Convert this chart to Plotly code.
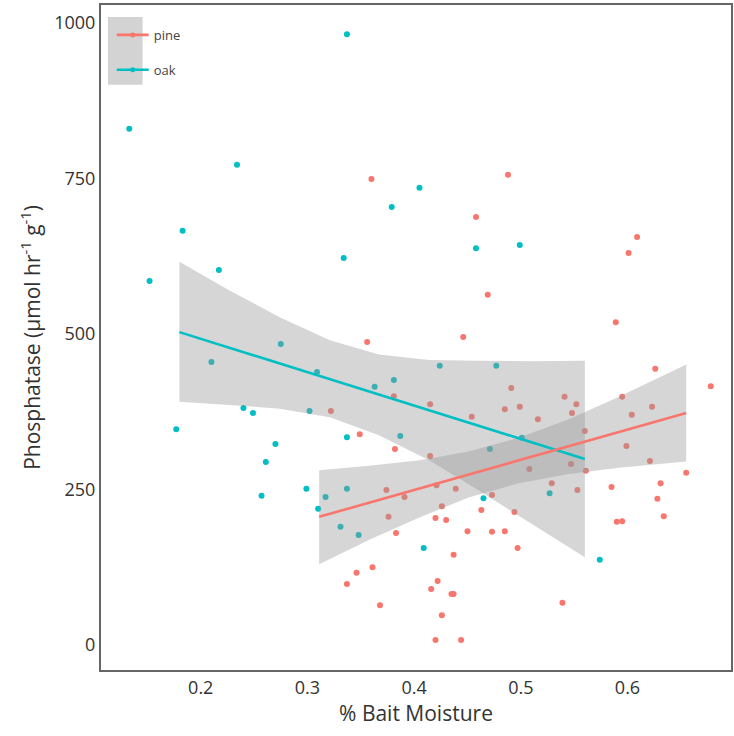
import plotly.graph_objects as go

# ---- data ----
oak_x = [0.133, 0.152, 0.183, 0.217, 0.234, 0.337, 0.177, 0.210, 0.240, 0.249,
         0.270, 0.261, 0.257, 0.275, 0.299, 0.302, 0.309, 0.334, 0.337, 0.317,
         0.310, 0.331, 0.337, 0.348, 0.379, 0.405, 0.458, 0.499, 0.424, 0.477,
         0.381, 0.363, 0.387, 0.471, 0.501, 0.465, 0.527, 0.409, 0.574]
oak_y = [830, 585, 666, 603, 772, 982, 347, 455, 381, 373,
         323, 294, 240, 484, 251, 376, 439, 622, 334, 238,
         219, 190, 251, 177, 704, 735, 638, 643, 449, 449,
         426, 415, 336, 315, 333, 236, 244, 156, 137]

pine_x = [0.322, 0.337, 0.360, 0.488, 0.458, 0.469, 0.356, 0.446, 0.491, 0.381,
          0.415, 0.485, 0.499, 0.454, 0.516, 0.541, 0.552, 0.548, 0.560, 0.349,
          0.382, 0.415, 0.547, 0.508, 0.561, 0.374, 0.439, 0.529, 0.553, 0.473,
          0.391, 0.421, 0.426, 0.376, 0.463, 0.420, 0.430, 0.383, 0.450, 0.473,
          0.485, 0.494, 0.437, 0.497, 0.361, 0.346, 0.422, 0.416, 0.435, 0.437,
          0.368, 0.426, 0.539, 0.420, 0.444, 0.609, 0.601, 0.589, 0.626, 0.678,
          0.595, 0.623, 0.604, 0.599, 0.621, 0.655, 0.631, 0.585, 0.628, 0.634,
          0.590, 0.595]
pine_y = [376, 98, 749, 756, 688, 563, 487, 495, 413, 400,
          387, 379, 383, 367, 363, 399, 387, 373, 344, 339,
          315, 304, 291, 283, 280, 249, 251, 260, 249, 241,
          238, 257, 223, 206, 217, 204, 201, 180, 183, 182,
          183, 214, 145, 156, 125, 116, 103, 90, 82, 82,
          64, 48, 68, 8, 8, 656, 630, 519, 444, 416,
          399, 383, 370, 320, 296, 277, 260, 254, 235, 207,
          198, 199]

# fitted lines and confidence bands
oak_fit_x = [0.180, 0.560]
oak_fit_y = [503, 299]
oak_band_x = [0.180, 0.227, 0.274, 0.321, 0.367, 0.414, 0.461, 0.507, 0.560]
oak_band_hi = [616, 570, 527, 490, 467, 458, 457, 456, 457]
oak_band_lo = [391, 386, 380, 366, 337, 297, 248, 198, 141]

pine_fit_x = [0.311, 0.655]
pine_fit_y = [206, 373]
pine_band_x = [0.311, 0.358, 0.405, 0.451, 0.498, 0.545, 0.592, 0.655]
pine_band_hi = [281, 288, 297, 311, 333, 363, 399, 451]
pine_band_lo = [130, 169, 205, 237, 260, 275, 285, 295]

x_ticks = [0.2, 0.3, 0.4, 0.5, 0.6]
y_ticks = [0, 250, 500, 750, 1000]

PINK = "#F8766D"
TEAL = "#00BFC4"
BAND = "rgba(153,153,153,0.4)"
FONT = "Open Sans"

fig = go.Figure()

def band(xs, hi, lo):
    fig.add_trace(go.Scatter(x=xs + xs[::-1], y=hi + lo[::-1], fill="toself",
                             fillcolor=BAND, line=dict(width=0), mode="lines",
                             hoverinfo="skip", showlegend=False))

# points
fig.add_trace(go.Scatter(x=pine_x, y=pine_y, mode="markers",
                         marker=dict(color=PINK, size=6), showlegend=False))
fig.add_trace(go.Scatter(x=oak_x, y=oak_y, mode="markers",
                         marker=dict(color=TEAL, size=6), showlegend=False))

band(oak_band_x, oak_band_hi, oak_band_lo)
band(pine_band_x, pine_band_hi, pine_band_lo)

fig.add_trace(go.Scatter(x=oak_fit_x, y=oak_fit_y, mode="lines",
                         line=dict(color=TEAL, width=2.6), showlegend=False))
fig.add_trace(go.Scatter(x=pine_fit_x, y=pine_fit_y, mode="lines",
                         line=dict(color=PINK, width=2.6), showlegend=False))

# legend entries
fig.add_trace(go.Scatter(x=[None], y=[None], mode="lines+markers", name="pine",
                         legendgroup="pine",
                         line=dict(color=PINK, width=2.6), marker=dict(color=PINK, size=5)))
fig.add_trace(go.Scatter(x=[None], y=[None], mode="lines+markers", name="oak",
                         legendgroup="oak",
                         line=dict(color=TEAL, width=2.6), marker=dict(color=TEAL, size=5)))

fig.add_shape(type="rect", xref="paper", yref="paper",
              x0=0.011, x1=0.066, y0=0.880, y1=0.982,
              fillcolor="#D3D3D3", line=dict(width=0), layer="below")

fig.update_layout(
    width=734, height=736,
    margin=dict(l=101, r=1, t=5, b=66),
    paper_bgcolor="white", plot_bgcolor="white",
    font=dict(family=FONT, color="#333333"),
    legend=dict(x=0.017, y=0.9775, xanchor="left", yanchor="top",
                bgcolor="rgba(0,0,0,0)", font=dict(size=13, color="#444444"),
                tracegroupgap=15, itemwidth=32),
)
fig.update_xaxes(range=[0.1065, 0.697], tickvals=x_ticks,
                 ticktext=[f"{v:.1f}" for v in x_ticks],
                 showgrid=False, zeroline=False, ticks="",
                 showline=True, mirror=True, linecolor="#666666", linewidth=2,
                 tickfont=dict(size=18, color="#333333"),
                 title=dict(text="% Bait Moisture", font=dict(size=21, color="#333333"),
                            standoff=6))
fig.update_yaxes(range=[-40.2, 1028.9], tickvals=y_ticks,
                 showgrid=False, zeroline=False, ticks="",
                 showline=True, mirror=True, linecolor="#666666", linewidth=2,
                 tickfont=dict(size=18, color="#333333"),
                 title=dict(text="Phosphatase (µmol hr<sup>-1</sup> g<sup>-1</sup>)",
                            font=dict(size=21, color="#333333"), standoff=8))

fig.write_html("out.html")
